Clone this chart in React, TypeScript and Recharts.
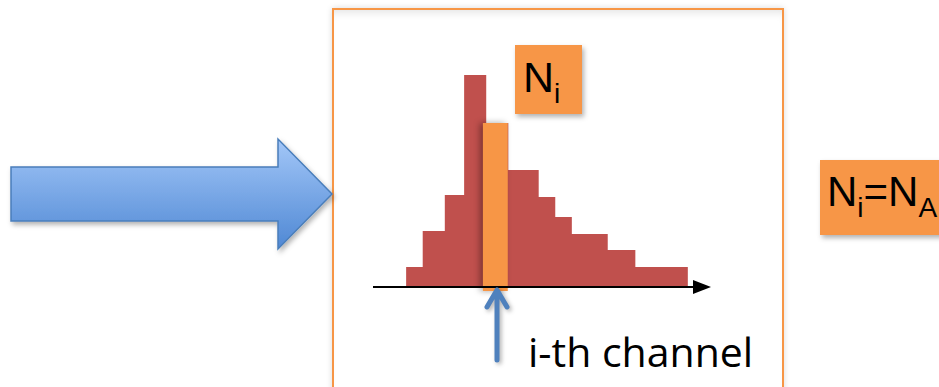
import { ComposedChart, Area, XAxis, YAxis, ReferenceArea, ReferenceLine } from 'recharts'

// histogram bin edges (channel number) and counts per bin
const binEdges = [6, 9, 13, 16.5, 20.5, 24.5, 30, 33, 36, 42.5, 47.5, 57]
const binCounts = [10, 28, 46, 106, 82, 58.5, 45, 35, 26.5, 18.5, 10]

// the highlighted i-th channel
const channelStart = 19.9
const channelEnd = 24.4
const channelCount = 82

const xDomain = [0, 58.3]
const yDomain = [0, 106]

const ORANGE = '#f79646'
const RED = '#c0504d'
const BLUE = '#4f81bd'

const stepData = binEdges.map((x, i) => ({
  x,
  count: binCounts[Math.min(i, binCounts.length - 1)],
}))

function Decorations() {
  return (
    <svg
      width={939}
      height={387}
      style={{ position: 'absolute', left: 0, top: 0, pointerEvents: 'none' }}
    >
      <defs>
        <linearGradient id="blueFill" x1="0" y1="0" x2="0" y2="1">
          <stop offset="0%" stopColor="#a3c7f8" />
          <stop offset="100%" stopColor="#4f88d4" />
        </linearGradient>
        <filter id="shadow" x="-20%" y="-20%" width="140%" height="140%">
          <feDropShadow dx="2" dy="3" stdDeviation="2.5" floodColor="#000" floodOpacity="0.3" />
        </filter>
      </defs>

      {/* input arrow */}
      <polygon
        points="11,167 278,167 278,139 332,194 278,249 278,221 11,221"
        fill="url(#blueFill)"
        stroke="#4a7ebb"
        strokeWidth={1.5}
        filter="url(#shadow)"
      />

      {/* x axis arrow head */}
      <polygon points="693,280 711,287 693,294" fill="#000" />

      {/* N_i label */}
      <rect x={515} y={45} width={67} height={69} fill={ORANGE} filter="url(#shadow)" />
      <text x={523} y={92} fontFamily="Liberation Sans, Arial, sans-serif" fontSize={43} fill="#000">
        N<tspan fontSize={28} dy={11}>i</tspan>
      </text>

      {/* i-th channel pointer */}
      <g style={{ filter: 'drop-shadow(2px 2px 2px rgba(0,0,0,0.3))' }}>
        <path
          d="M497,360 L497,290 M487,307 L497,290 L507,307"
          fill="none"
          stroke={BLUE}
          strokeWidth={5}
          strokeLinecap="round"
          strokeLinejoin="round"
        />
      </g>
      <text x={528} y={367} fontFamily="Open Sans, sans-serif" fontSize={41} fill="#000">
        i-th channel
      </text>

      {/* N_i = N_A label */}
      <rect x={820} y={160} width={130} height={75} fill={ORANGE} filter="url(#shadow)" />
      <text x={827} y={206} fontFamily="Liberation Sans, Arial, sans-serif" fontSize={42} fill="#000">
        N<tspan fontSize={28} dy={11}>i</tspan>
        <tspan dy={-11}>=N</tspan>
        <tspan fontSize={28} dy={11}>A</tspan>
      </text>
    </svg>
  )
}

export default function App() {
  return (
    <div
      style={{
        position: 'absolute',
        left: 0,
        top: 0,
        width: 939,
        height: 387,
        overflow: 'hidden',
        background: '#fff',
      }}
    >
      {/* frame around the histogram */}
      <div
        style={{
          position: 'absolute',
          left: 332,
          top: 8,
          width: 448,
          height: 400,
          border: `2px solid ${ORANGE}`,
          boxShadow: '0 0 6px rgba(0,0,0,0.15), inset 0 8px 10px -6px rgba(0,0,0,0.12)',
          background: '#fff',
        }}
      />
      <div style={{ position: 'absolute', left: 0, top: 0 }}>
        <ComposedChart
          width={939}
          height={387}
          data={stepData}
          margin={{ top: 75, right: 244, bottom: 100, left: 373 }}
        >
          <XAxis dataKey="x" type="number" domain={xDomain} hide height={0} />
          <YAxis type="number" domain={yDomain} hide width={0} />
          <Area
            type="stepAfter"
            dataKey="count"
            fill={RED}
            fillOpacity={1}
            stroke="none"
            isAnimationActive={false}
            dot={false}
            activeDot={false}
          />
          <ReferenceLine y={0} stroke="#000" strokeWidth={2} ifOverflow="visible" />
          <ReferenceArea
            x1={channelStart}
            x2={channelEnd}
            y1={-2}
            y2={channelCount}
            ifOverflow="visible"
            fill={ORANGE}
            fillOpacity={1}
            stroke="none"
            style={{ filter: 'drop-shadow(-3px 0px 3px rgba(0,0,0,0.35))' }}
          />
        </ComposedChart>
      </div>
      <Decorations />
    </div>
  )
}
